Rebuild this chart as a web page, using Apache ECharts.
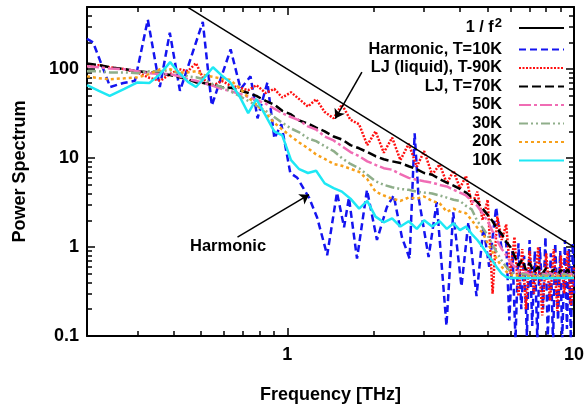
<!DOCTYPE html>
<html>
<head>
<meta charset="utf-8">
<script src="https://cdn.jsdelivr.net/npm/echarts@6/dist/echarts.min.js"></script>
<style>html,body{margin:0;padding:0;background:#fff;}#c{width:587px;height:409px;}</style>
</head>
<body>
<div id="c"></div>
<script>
// ---- data ----
const freq = [0.2,0.22,0.24,0.27,0.3,0.33,0.36,0.39,0.42,0.45,
  0.48,0.51,0.55,0.59,0.63,0.68,0.73,0.78,0.84,0.9,
  0.96,1.03,1.1,1.18,1.26,1.35,1.45,1.55,1.66,1.78,
  1.9,2.03,2.17,2.32,2.48,2.65,2.83,3.0,3.2,3.4,
  3.6,3.8,4.0,4.2,4.4,4.6,4.8,5.0,5.2,5.4,
  5.6,5.8,6.0,6.2,6.4,6.6,6.8,7.0,7.25,7.5,
  7.75,8.0,8.25,8.5,8.75,9.0,9.25,9.5,9.75,10];

const ljLiquid90 = [108,111,105,100,92,80,74,88,100,95,
  117,77,65,74,66,62,58,66,54,60,
  48,55,46,38,46,33,28,40,27,24,
  14,20,11.5,17,9.5,14.5,8,12,6.5,8.5,
  5.2,7.2,4.6,6.3,3.0,4.2,2.0,3.4,0.3,2.2,
  1.2,1.8,0.5,1.3,0.28,0.95,0.2,0.9,0.3,1.0,
  0.17,0.85,0.25,0.95,0.19,0.8,0.3,0.9,0.22,0.6];

const lj70 = [116,111,105,100,95,92,90,86,81,77,
  71,70,66,63,62,58,54,50,44,40,
  34,31,26.5,24.5,22,20,17.5,16.2,14,12.9,
  11.7,10.5,9.7,9.2,8.8,8.1,7.5,6.8,6.5,5.8,
  5.3,4.9,4.5,4.1,3.6,3.2,2.7,2.3,1.95,1.6,
  1.4,1.15,1.0,0.8,0.62,0.72,0.55,0.66,0.52,0.6,
  0.5,0.58,0.5,0.56,0.49,0.55,0.5,0.56,0.49,0.53];

const lj50 = [108,105,102,100,95,90,88,88,83,77,
  74,70,65,60,57,53,49,45,41,36,
  32,29,26.5,22.7,21,17.5,15.8,13.6,11.7,10.5,
  9.2,8.4,7.7,7.4,6.6,6,5.7,5.5,5.3,5.0,
  4.8,4.4,4.1,3.8,3.3,2.9,2.4,1.95,1.5,1.17,
  0.95,0.81,0.68,0.6,0.54,0.5,0.52,0.49,0.5,0.48,
  0.5,0.49,0.51,0.48,0.5,0.49,0.5,0.48,0.5,0.49];

const lj30 = [95,95,92,92,90,95,95,97,90,83,
  81,77,68,63,57,50,44,39,34,29,
  25,21.5,19.5,16.7,15.5,13.6,12,10,8.6,7.7,
  6.5,5.5,5.0,4.7,4.5,4.4,4.2,4.1,4.0,3.8,
  3.6,3.4,3.3,2.9,2.65,1.95,1.65,1.35,1.05,0.85,
  0.7,0.6,0.53,0.5,0.48,0.5,0.49,0.47,0.5,0.48,
  0.49,0.47,0.5,0.48,0.49,0.47,0.5,0.48,0.49,0.48];

const lj20 = [83,79,77,79,81,88,100,100,92,92,
  95,86,82,78,76,62,48,40,32,25,
  21,17.5,15,12.9,11,9.8,8.6,8.2,7.6,7.0,
  5.8,4.2,3.8,3.5,3.3,3.6,3.5,3.7,3.3,3.1,
  2.5,2.7,2.5,2.4,2.0,1.65,1.45,1.1,0.88,0.72,
  0.6,0.53,0.49,0.47,0.48,0.46,0.47,0.46,0.47,0.46,
  0.47,0.46,0.47,0.46,0.47,0.46,0.47,0.46,0.47,0.46];

const lj10 = [66,57,50,60,71,70,88,120,90,72,
  63,78,105,85,72,50,32,46,30,20,
  18,9.5,7.5,6.8,7.2,5.2,4.6,4.2,3.5,2.7,
  3.3,2.2,1.9,2.1,1.7,1.95,1.6,2.0,1.7,1.95,
  1.6,1.85,1.55,1.7,1.4,1.2,1.0,0.82,0.7,0.58,
  0.5,0.46,0.45,0.45,0.45,0.45,0.45,0.45,0.45,0.45,
  0.45,0.45,0.45,0.45,0.45,0.45,0.45,0.45,0.45,0.45];

const harmFreq = [0.2,0.21,0.241,0.268,0.294,0.326,0.359,0.389,0.422,0.507,
  0.545,0.634,0.687,0.744,0.787,0.852,0.901,0.953,1.024,1.083,
  1.19,1.27,1.377,1.49,1.577,1.64,1.75,1.896,2.054,2.223,
  2.35,2.51,2.67,2.78,2.87,3.11,3.32,3.59,3.79,4.05,
  4.28,4.57,4.83,5.06,5.35,5.58,5.8,5.95,6.1,6.25,
  6.4,6.55,6.7,6.85,7.0,7.15,7.3,7.45,7.6,7.8,
  7.95,8.1,8.3,8.45,8.6,8.8,8.95,9.1,9.3,9.45,
  9.6,9.75,9.9,10];
const harmPow = [220,200,63,70,74,360,63,257,57,340,
  39,167,60,83,28,71,16.7,24,6.8,6.0,
  3.6,2.15,0.81,4.1,1.67,3.6,0.74,4.4,1.2,2.8,
  3.8,1.29,0.74,19,3.6,0.77,3.2,0.13,2.45,0.36,
  1.9,0.28,1.67,0.6,2.8,1.0,1.14,0.15,0.9,0.09,
  1.1,0.2,0.8,0.1,1.2,0.13,0.9,0.09,1.0,0.2,
  1.3,0.1,0.85,0.08,1.1,0.15,0.9,0.09,1.2,0.12,
  0.95,0.09,1.1,0.3];

const refFreq = [0.45, 10];
const refPow = [494, 1];

const xMajor = [1, 10];
const xMinor = [0.2,0.3,0.4,0.5,0.6,0.7,0.8,0.9,2,3,4,5,6,7,8,9];
const yMajor = [0.1, 1, 10, 100];
const yMinor = [0.2,0.3,0.4,0.5,0.6,0.7,0.8,0.9,2,3,4,5,6,7,8,9,20,30,40,50,60,70,80,90,200,300,400];

const arrowHarmonic = [[0.67, 1.29], [1.19, 3.88]];
const arrowLiquid = [[1.82, 92.6], [1.47, 27.8]];

const legendNames = ['1 / f²', 'Harmonic, T=10K', 'LJ (liquid), T-90K', 'LJ, T=70K', '50K', '30K', '20K', '10K'];

// ---- chart ----
const FONT = '"Liberation Sans", Arial, Helvetica, sans-serif';
const pair = (xs, ys) => xs.map((x, i) => [x, ys[i]]);

function xAx(pos, major, label) {
  return {
    type: 'log', logBase: 10, min: 0.2, max: 10, position: pos, gridIndex: 0,
    splitLine: {show: false},
    axisLine: {show: major, onZero: false, lineStyle: {color: '#000', width: 2}},
    axisTick: {show: true, inside: true, length: major ? 8 : 5,
      customValues: major ? xMajor : xMinor, lineStyle: {color: '#000', width: 1.5}},
    axisLabel: {show: label, customValues: xMajor, margin: 10, color: '#000',
      fontFamily: FONT, fontWeight: 'bold', fontSize: 18},
    name: label ? 'Frequency [THz]' : '', nameLocation: 'middle', nameGap: 50,
    nameTextStyle: {color: '#000', fontFamily: FONT, fontWeight: 'bold', fontSize: 18}
  };
}
function yAx(pos, major, label) {
  return {
    type: 'log', logBase: 10, min: 0.1, max: 500, position: pos, gridIndex: 0,
    splitLine: {show: false},
    axisLine: {show: major, onZero: false, lineStyle: {color: '#000', width: 2}},
    axisTick: {show: true, inside: true, length: major ? 8 : 5,
      customValues: major ? yMajor : yMinor, lineStyle: {color: '#000', width: 1.5}},
    axisLabel: {show: label, customValues: yMajor, margin: 8, color: '#000',
      fontFamily: FONT, fontWeight: 'bold', fontSize: 18},
    name: label ? 'Power Spectrum' : '', nameLocation: 'middle', nameGap: 58,
    nameTextStyle: {color: '#000', fontFamily: FONT, fontWeight: 'bold', fontSize: 18}
  };
}

function ser(name, data, color, width, dash, z) {
  return {
    name, type: 'line', data, xAxisIndex: 0, yAxisIndex: 0,
    showSymbol: false, symbol: 'none', symbolSize: 0, clip: true, z: z,
    lineStyle: {color, width, type: dash},
    itemStyle: {color}
  };
}

const series = [
  ser(legendNames[1], pair(harmFreq, harmPow), '#1414f0', 2.5, [7, 4], 2),
  ser(legendNames[2], pair(freq, ljLiquid90), '#ff1010', 2.5, [2, 1.5], 3),
  ser(legendNames[3], pair(freq, lj70), '#000000', 2.5, [9, 4], 4),
  ser(legendNames[4], pair(freq, lj50), '#f06cb4', 2.5, [12, 3, 3, 3], 5),
  ser(legendNames[5], pair(freq, lj30), '#8fae8a', 2.5, [9, 3, 2, 3, 2, 3], 6),
  ser(legendNames[6], pair(freq, lj20), '#f7a01a', 2.5, [3, 3], 7),
  ser(legendNames[7], pair(freq, lj10), '#1ee8f4', 2.5, 'solid', 8),
  Object.assign(ser(legendNames[0], pair(refFreq, refPow), '#000000', 1.5, 'solid', 9), {
    markLine: {
      silent: true, animation: false,
      symbol: ['none', 'arrow'], symbolSize: 9,
      label: {show: false},
      lineStyle: {color: '#000', width: 1.5, type: 'solid'},
      data: [
        [{coord: arrowHarmonic[0]}, {coord: arrowHarmonic[1]}],
        [{coord: arrowLiquid[0]}, {coord: arrowLiquid[1]}]
      ]
    }
  })
];

const chart = echarts.init(document.getElementById('c'), null, {renderer: 'canvas'});
chart.setOption({
  animation: false,
  backgroundColor: '#fff',
  grid: {left: 87, right: 9, top: 7, bottom: 71, containLabel: false},
  xAxis: [xAx('bottom', true, true), xAx('bottom', false, false), xAx('top', true, false), xAx('top', false, false)],
  yAxis: [yAx('left', true, true), yAx('left', false, false), yAx('right', true, false), yAx('right', false, false)],
  legend: {
    data: legendNames,
    orient: 'vertical', align: 'right', right: 22, top: 17, padding: 0,
    itemWidth: 45, itemHeight: 12, itemGap: 2.5,
    itemStyle: {opacity: 0},
    formatter: function (name) {
      return name === legendNames[0] ? '{a|1 / f}{s|2}' : name;
    },
    textStyle: {
      color: '#000', fontFamily: FONT, fontWeight: 'bold', fontSize: 16.3, lineHeight: 16,
      padding: [0, 12, 0, 0],
      rich: {
        a: {color: '#000', fontFamily: FONT, fontWeight: 'bold', fontSize: 16.3, lineHeight: 16},
        s: {color: '#000', fontFamily: FONT, fontWeight: 'bold', fontSize: 13, lineHeight: 16, padding: [0, 0, 9, 1]}
      }
    }
  },
  graphic: [{
    type: 'text', left: 190, top: 238, z: 100,
    style: {text: 'Harmonic', fill: '#000', font: 'bold 16.5px ' + FONT}
  }],
  series
});
</script>
</body>
</html>
